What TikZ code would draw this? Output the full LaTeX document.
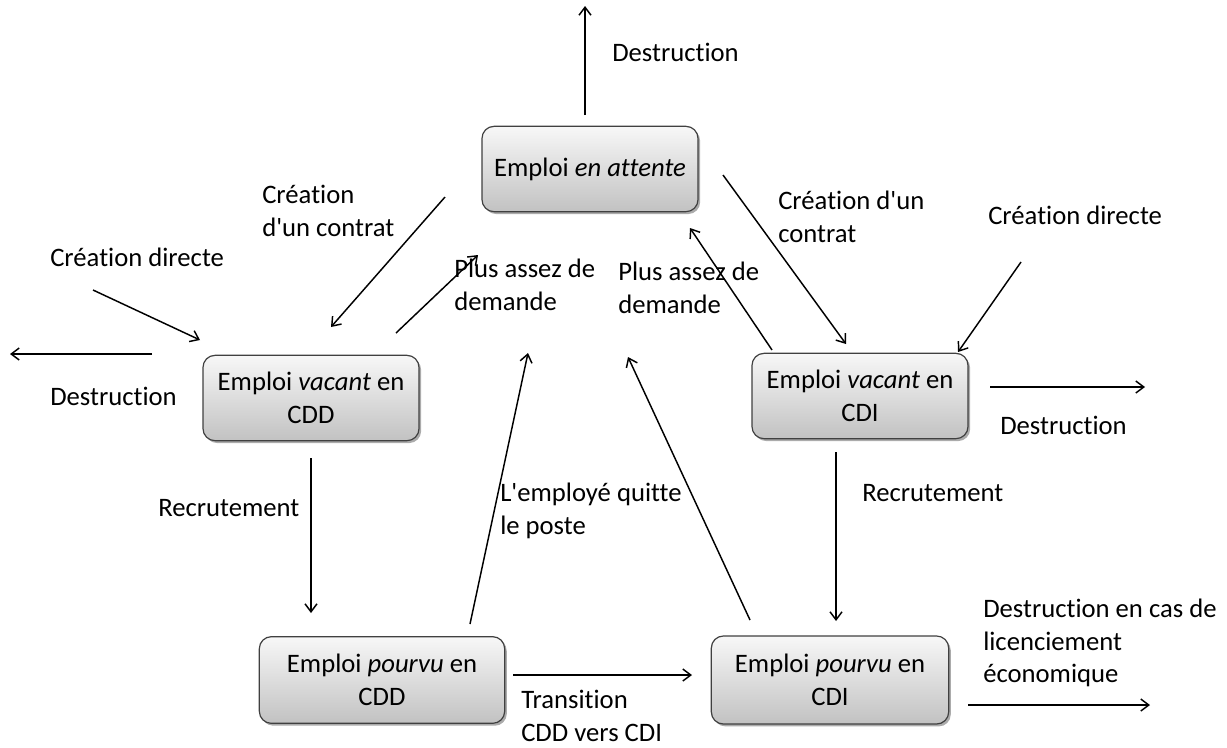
\documentclass[tikz,border=0pt]{standalone}
\usepackage{fontspec}
\setmainfont{Carlito}[Ligatures={TeXOff,CommonOff}]
\usetikzlibrary{arrows.meta,shadows}
\begin{document}
\begin{tikzpicture}[x=0.75pt,y=-0.75pt,
  font=\fontsize{20}{24.5}\selectfont,
  box/.style={draw=black!75, line width=0.9pt, rounded corners=9pt,
    top color=black!3, bottom color=black!24,
    minimum width=162pt, minimum height=64pt, align=center, inner sep=2pt,
    drop shadow={shadow xshift=1.6pt, shadow yshift=-1.8pt, fill=black!55, opacity=0.6}},
  lbl/.style={anchor=west, align=left, inner sep=0pt},
  arr/.style={-{Straight Barb[length=6pt,width=9pt]}, line width=1.1pt, black}]
\useasboundingbox (0,0) rectangle (1227,747);

% boxes
\node[box] (att) at (590,169) {Emploi \textit{en attente}};
\node[box] (vcdd) at (311,398) {Emploi \textit{vacant} en\\CDD};
\node[box] (vcdi) at (860,396) {Emploi \textit{vacant} en\\CDI};
\node[box, minimum width=184pt, minimum height=65pt] (pcdd) at (382,680) {Emploi \textit{pourvu} en\\CDD};
\node[box, minimum width=178pt, minimum height=66pt] (pcdi) at (830,680) {Emploi \textit{pourvu} en\\CDI};

% coordinates
\coordinate (a1s) at (585,115); \coordinate (a1e) at (585,6);
\coordinate (a2s) at (445,197); \coordinate (a2e) at (331,327);
\coordinate (a3s) at (396,333); \coordinate (a3e) at (478,255);
\coordinate (a4s) at (93,290);  \coordinate (a4e) at (200,340);
\coordinate (a5s) at (152,354); \coordinate (a5e) at (10,354);
\coordinate (a6s) at (311,458); \coordinate (a6e) at (311,613);
\coordinate (a7s) at (470,624); \coordinate (a7e) at (528,353);
\coordinate (a8s) at (513,675); \coordinate (a8e) at (692,675);
\coordinate (a9s) at (750,620); \coordinate (a9e) at (628,357);
\coordinate (a10s) at (772,350); \coordinate (a10e) at (690,228);
\coordinate (a11s) at (723,175); \coordinate (a11e) at (846,344);
\coordinate (a12s) at (1021,262); \coordinate (a12e) at (958,352);
\coordinate (a13s) at (990,387); \coordinate (a13e) at (1145,387);
\coordinate (a14s) at (836,452); \coordinate (a14e) at (836,621);
\coordinate (a15s) at (968,705); \coordinate (a15e) at (1150,705);

\foreach \i in {1,...,15} {\draw[arr] (a\i s) -- (a\i e);}

% labels
\node[lbl] (l1) at (612,52) {Destruction};
\node[lbl] (l2) at (262,211) {Création\\d'un contrat};
\node[lbl] (l3) at (454,285) {Plus assez de\\demande};
\node[lbl] (l4) at (50,257) {Création directe};
\node[lbl] (l5) at (50,396) {Destruction};
\node[lbl] (l6) at (158,508) {Recrutement};
\node[lbl] (l7) at (500,511) {L'employé quitte\\le poste};
\node[lbl] (l8) at (521,716) {Transition\\CDD vers CDI};
\node[lbl] (l10) at (618,288) {Plus assez de\\demande};
\node[lbl] (l11) at (778,217) {Création d'un\\contrat};
\node[lbl] (l12) at (988,215) {Création directe};
\node[lbl] (l13) at (1000,425) {Destruction};
\node[lbl] (l14) at (862,493) {Recrutement};
\node[lbl] (l15) at (983,643) {Destruction en cas de\\licenciement\\économique};
\end{tikzpicture}
\end{document}
